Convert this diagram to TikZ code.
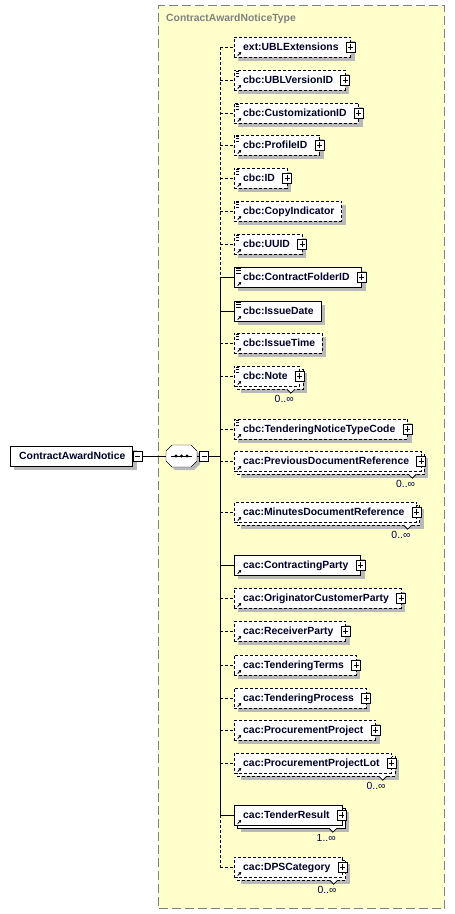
\documentclass[tikz,border=0pt]{standalone}
\usepackage{fontspec}
\setmainfont{Liberation Sans}
\usetikzlibrary{arrows.meta}

\definecolor{typeyellow}{RGB}{255,255,204}
\definecolor{shadowgray}{RGB}{185,185,185}
\definecolor{typegray}{RGB}{128,128,128}
\definecolor{occblue}{RGB}{0,0,64}
\definecolor{elemtext}{RGB}{0,0,40}

\pgfdeclarelayer{frame}
\pgfdeclarelayer{shadow}
\pgfsetlayers{frame,shadow,main}

\newcommand{\elname}[1]{\hspace*{9pt}#1\hspace*{12pt}}
\newcommand{\elnamen}[1]{\hspace*{9pt}#1\hspace*{7pt}}
\newcommand{\refarrow}{\draw[line width=0.9pt,-{Triangle[length=2.4pt,width=3pt]}] ([shift={(3.5pt,1.5pt)}]path picture bounding box.south west) -- ++(3.5pt,3.5pt);}
\newcommand{\simplines}{\foreach \d in {1.5,3.8,6.1} {\draw[line width=0.7pt] ([shift={(2pt,-\d pt)}]path picture bounding box.north west) -- ++(5pt,0pt);}}
\newcommand{\plusbox}[1]{\node[pbox] at (#1.east) {};}
\newcommand{\occurs}[2]{%
  \draw[notch] ([shift={(-13pt,-3pt)}]#1.south east) -- ++(4pt,-4pt) -- ++(4pt,4pt);
  \node[occlbl] at ([shift={(-6pt,-13pt)}]#1.south east) {#2};}
\newcommand{\boxshadow}[2]{\fill[shadowgray] ([shift={(#2,-#2)}]#1.north west) rectangle ([shift={(#2,-#2)}]#1.south east);}
\newcommand{\seqpath}[2]{(#1+6,#2-11) -- ++(19,0) -- ++(6,6) -- ++(0,10) -- ++(-6,6) -- ++(-19,0) -- ++(-6,-6) -- ++(0,-10) -- cycle}

\tikzset{
  typebox/.style={draw=typegray,fill=typeyellow,line width=1.2pt,dash pattern=on 9pt off 4pt,anchor=north west,inner sep=0pt},
  typetitle/.style={text=typegray,font=\fontsize{10.4}{12}\selectfont\bfseries,inner sep=0pt,anchor=base west},
  elbox/.style={draw,fill=white,anchor=west,minimum height=20pt,inner xsep=0pt,inner ysep=0pt,text=elemtext,
    text height=7.5pt,text depth=0pt,font=\fontsize{10.4}{12}\selectfont\bfseries},
  opt/.style={dash pattern=on 3pt off 2pt},
  refmark/.style={path picture={\refarrow}},
  simpmark/.style={path picture={\refarrow\simplines}},
  pbox/.style={draw,fill=white,solid,line width=0.8pt,minimum width=9pt,minimum height=10pt,inner sep=0pt,
    path picture={\draw[line width=0.8pt] ([yshift=-2pt]path picture bounding box.north) -- ([yshift=2pt]path picture bounding box.south);
      \draw[line width=0.8pt] ([xshift=2pt]path picture bounding box.west) -- ([xshift=-2pt]path picture bounding box.east);}},
  mbox/.style={draw,fill=white,line width=0.8pt,minimum width=9pt,minimum height=10pt,inner sep=0pt,anchor=west,
    path picture={\draw[line width=0.8pt] ([xshift=2pt]path picture bounding box.west) -- ([xshift=-2pt]path picture bounding box.east);}},
  notch/.style={draw,fill=white,solid,line width=0.8pt},
  occlbl/.style={text=occblue,font=\fontsize{10.4}{12}\selectfont,inner sep=0pt,anchor=east},
  seqbox/.style={minimum width=31pt,minimum height=22pt,inner sep=0pt}
}

\begin{document}
\begin{tikzpicture}[x=1pt,y=-1pt,line width=0.9pt]
\useasboundingbox (0,0) rectangle (455,914);

% complex type frame
\begin{pgfonlayer}{frame}
\node[typebox,minimum width=286pt,minimum height=903pt] (ctype) at (158,5) {};
\end{pgfonlayer}
\node[typetitle] (title) at (166,21.5) {ContractAwardNoticeType};

% root element and sequence
\node[elbox] (root) at (10,456) {\elnamen{ContractAwardNotice}};
\node[mbox] (rootminus) at (root.east) {};
\node[seqbox] (seq) at (181.5,456) {};
\fill[shadowgray] \seqpath{169}{459};
\draw[fill=white] \seqpath{166}{456};
\draw ([xshift=5pt]seq.west) -- ([xshift=-5pt]seq.east);
\foreach \dx in {-5.5,0,5.5} \fill ([xshift=\dx pt]seq.center) circle (1.7pt);
\node[mbox] (seqminus) at ([xshift=2pt]seq.east) {};
\coordinate (spine) at (220,456);
\draw (rootminus.east) -- (seq.west);
\draw (seq.east) -- (seqminus.west);
\draw (seqminus.east) -- (seqminus.east -| spine);

% child elements
\node[elbox,opt,refmark] (ublext) at (234,47) {\elname{ext:UBLExtensions}};
\node[elbox,opt,simpmark] (ublver) at (234,80) {\elname{cbc:UBLVersionID}};
\node[elbox,opt,simpmark] (custid) at (234,113) {\elname{cbc:CustomizationID}};
\node[elbox,opt,simpmark] (profid) at (234,145) {\elname{cbc:ProfileID}};
\node[elbox,opt,simpmark] (id) at (234,178) {\elname{cbc:ID}};
\node[elbox,opt,simpmark] (copyind) at (234,211) {\elnamen{cbc:CopyIndicator}};
\node[elbox,opt,simpmark] (uuid) at (234,244) {\elname{cbc:UUID}};
\node[elbox,simpmark] (folderid) at (234,277) {\elname{cbc:ContractFolderID}};
\node[elbox,simpmark] (issuedate) at (234,311) {\elnamen{cbc:IssueDate}};
\node[elbox,opt,simpmark] (issuetime) at (234,343) {\elnamen{cbc:IssueTime}};
\node[elbox,opt,simpmark] (note) at (234,376) {\elname{cbc:Note}};
\node[elbox,opt,simpmark] (noticecode) at (234,429) {\elname{cbc:TenderingNoticeTypeCode}};
\node[elbox,opt,refmark] (prevdoc) at (234,461) {\elname{cac:PreviousDocumentReference}};
\node[elbox,opt,refmark] (minutesdoc) at (234,512) {\elname{cac:MinutesDocumentReference}};
\node[elbox,refmark] (contracting) at (234,565) {\elname{cac:ContractingParty}};
\node[elbox,opt,refmark] (originator) at (234,598) {\elname{cac:OriginatorCustomerParty}};
\node[elbox,opt,refmark] (receiver) at (234,631) {\elname{cac:ReceiverParty}};
\node[elbox,opt,refmark] (terms) at (234,665) {\elname{cac:TenderingTerms}};
\node[elbox,opt,refmark] (process) at (234,698) {\elname{cac:TenderingProcess}};
\node[elbox,opt,refmark] (project) at (234,730) {\elname{cac:ProcurementProject}};
\node[elbox,opt,refmark] (projectlot) at (234,763) {\elname{cac:ProcurementProjectLot}};
\node[elbox,refmark] (result) at (234,815) {\elname{cac:TenderResult}};
\node[elbox,opt,refmark] (dps) at (234,867) {\elname{cac:DPSCategory}};

% shadows and stacked copies
\begin{pgfonlayer}{shadow}
\foreach \n in {root,ublext,ublver,custid,profid,id,copyind,uuid,folderid,issuedate,issuetime,noticecode,
  contracting,originator,receiver,terms,process,project}
  {\boxshadow{\n}{4pt}}
\foreach \n/\s in {note/opt,prevdoc/opt,minutesdoc/opt,projectlot/opt,result/solid,dps/opt}
  {\boxshadow{\n}{7pt}
   \draw[fill=white,\s] ([shift={(3pt,-3pt)}]\n.north west) rectangle ([shift={(3pt,-3pt)}]\n.south east);}
\end{pgfonlayer}

% expand boxes
\foreach \n in {ublext,ublver,custid,profid,id,uuid,folderid,note,noticecode,prevdoc,minutesdoc,
  contracting,originator,receiver,terms,process,project,projectlot,result,dps}
  {\plusbox{\n}}

% occurrences
\occurs{note}{0..∞}
\occurs{prevdoc}{0..∞}
\occurs{minutesdoc}{0..∞}
\occurs{projectlot}{0..∞}
\occurs{result}{1..∞}
\occurs{dps}{0..∞}

% spine and connectors
\draw[opt] (ublext.west -| spine) -- (folderid.west -| spine);
\draw (folderid.west -| spine) -- (result.west -| spine);
\draw[opt] (result.west -| spine) -- (dps.west -| spine);
\foreach \n in {ublext,ublver,custid,profid,id,copyind,uuid,issuetime,note,noticecode,prevdoc,minutesdoc,
  originator,receiver,terms,process,project,projectlot,dps}
  {\draw[opt] (\n.west -| spine) -- (\n.west);}
\foreach \n in {folderid,issuedate,contracting,result}
  {\draw (\n.west -| spine) -- (\n.west);}
\end{tikzpicture}
\end{document}
